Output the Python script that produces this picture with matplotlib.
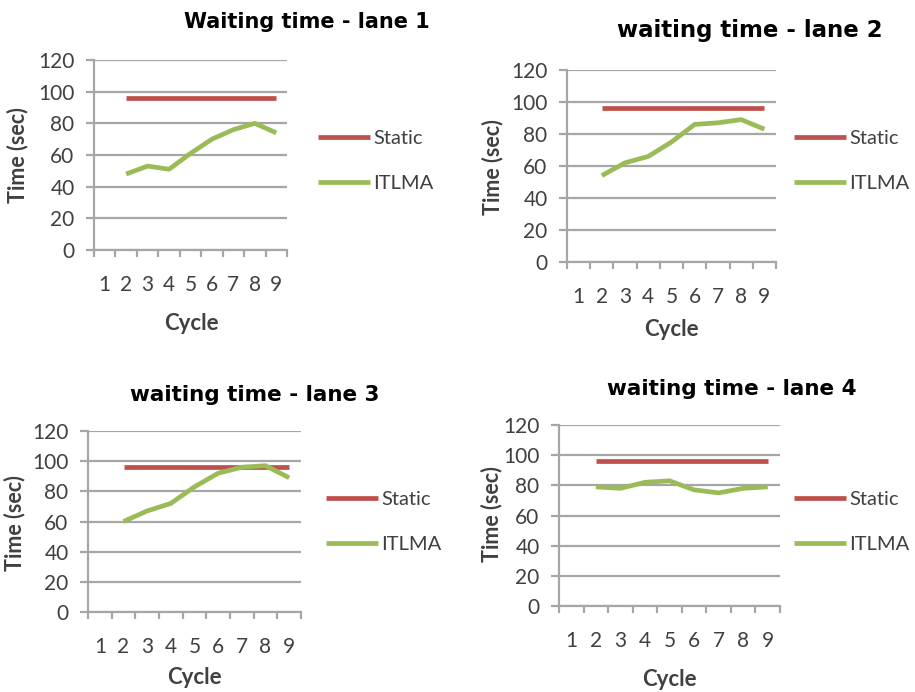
import numpy as np
import matplotlib
matplotlib.use("Agg")
import matplotlib.pyplot as plt

# data
cycles = [1, 2, 3, 4, 5, 6, 7, 8, 9]
data_cycles = [2, 3, 4, 5, 6, 7, 8, 9]
titles = ["Waiting time - lane 1", "waiting time - lane 2",
          "waiting time - lane 3", "waiting time - lane 4"]
static = [96, 96, 96, 96, 96, 96, 96, 96]
itlma_1 = [48, 53, 51, 61, 70, 76, 80, 74]
itlma_2 = [54, 62, 66, 75, 86, 87, 89, 83]
itlma_3 = [60, 67, 72, 83, 92, 96, 97, 89]
itlma_4 = [79, 78, 82, 83, 77, 75, 78, 79]
yticks = [0, 20, 40, 60, 80, 100, 120]

W, H = 915, 692
fig = plt.figure(figsize=(W / 100, H / 100), dpi=100)

# pixel boxes: left, top, right, bottom
boxes = [(94, 60, 287, 250), (567, 70, 776, 262),
         (88, 431, 301, 612), (559, 425, 780, 606)]
title_pos = [(307, 22), (750, 30), (255, 395), (732, 389)]
title_size = [15, 16.5, 15.5, 15.5]
ylab_pos = [(18, 155), (493, 167), (15, 523), (492, 514)]
cyc_pos = [(191, 323), (671, 330), (194, 678), (669, 679)]
leg_pos = [(308, 161), (784, 161), (316, 522), (784, 522)]
series = [itlma_1, itlma_2, itlma_3, itlma_4]

red = "#C0504D"
green = "#9BBB59"
grid_c = "#A6A6A6"
txt = "#404040"

for i in range(4):
    l, t, r, b = boxes[i]
    ax = fig.add_axes([l / W, 1 - b / H, (r - l) / W, (b - t) / H])
    ax.plot(data_cycles, static, color=red, lw=3.4, label="Static",
            solid_capstyle="butt")
    ax.plot(data_cycles, series[i], color=green, lw=3.4, label="ITLMA",
            solid_capstyle="butt")
    ax.set_xlim(0.5, 9.5)
    ax.set_ylim(0, 120)
    ax.set_yticks(yticks)
    ax.set_xticks(cycles)
    ax.set_xticks(np.arange(0.5, 10, 1), minor=True)
    ax.yaxis.grid(True, color=grid_c, lw=1.6)
    ax.set_axisbelow(True)
    for s in ["top", "right"]:
        ax.spines[s].set_visible(False)
    for s in ["left", "bottom"]:
        ax.spines[s].set_color(grid_c)
        ax.spines[s].set_linewidth(1.6)
    ax.tick_params(axis="x", which="major", length=0, pad=18,
                   labelsize=15, labelcolor=txt)
    ax.tick_params(axis="x", which="minor", length=5, width=1.6,
                   color=grid_c)
    ax.tick_params(axis="y", length=6, width=1.6, color=grid_c, pad=8,
                   labelsize=15, labelcolor=txt)
    for lab in ax.get_xticklabels() + ax.get_yticklabels():
        lab.set_family("Lato")

    tx, ty = title_pos[i]
    fig.text(tx / W, 1 - ty / H, titles[i], ha="center", va="center",
             fontsize=title_size[i], fontweight="bold", family="DejaVu Sans")
    yx, yy = ylab_pos[i]
    fig.text(yx / W, 1 - yy / H, "Time (sec)", ha="center", va="center",
             rotation=90, fontsize=15.5, fontweight="bold", family="Lato",
             color=txt)
    cx, cy = cyc_pos[i]
    fig.text(cx / W, 1 - cy / H, "Cycle", ha="center", va="center",
             fontsize=16, fontweight="bold", family="Lato", color=txt)
    lx, ly = leg_pos[i]
    ax.legend(loc="center left", bbox_to_anchor=(lx / W, 1 - ly / H),
              bbox_transform=fig.transFigure, frameon=False,
              prop={"family": "Lato", "size": 14.5}, handlelength=2.6,
              handletextpad=0.15, labelspacing=1.4, borderpad=0,
              labelcolor=txt)

fig.savefig("out.png", dpi=100)
